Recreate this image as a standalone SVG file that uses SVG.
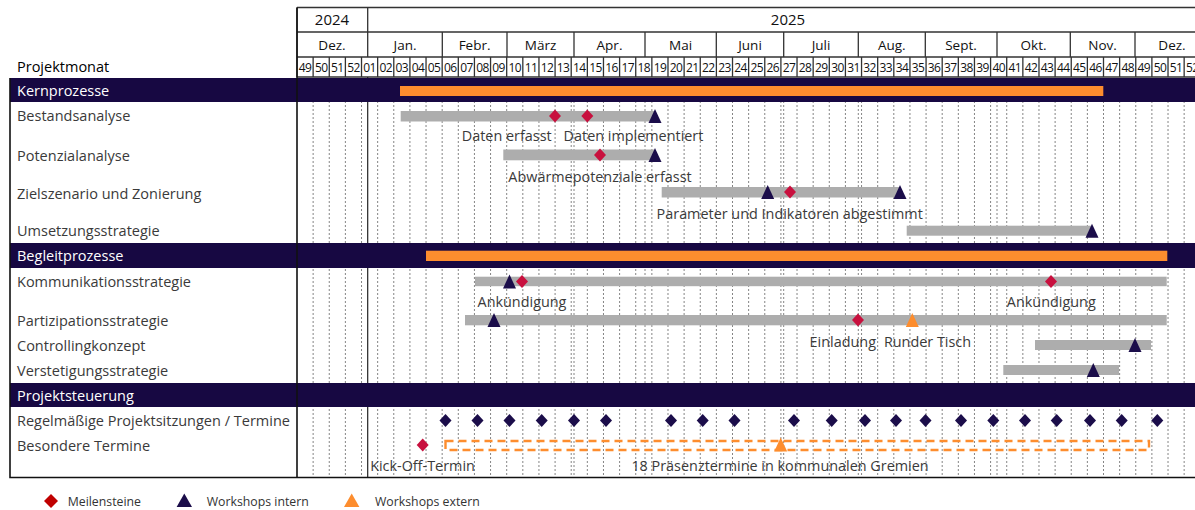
<svg xmlns="http://www.w3.org/2000/svg" xmlns:xlink="http://www.w3.org/1999/xlink" width="1195" height="510" viewBox="0 0 1195 510">
<style>
text{font-family:"Open Sans","Noto Sans","DejaVu Sans",sans-serif;fill:#3a3a3a}
.lbl{font-size:14.5px}
.band{fill:#170842}
.bt{font-size:14.5px;fill:#ffffff}
.hd{stroke:#333;stroke-width:1.3;fill:none}
.yr{font-size:15px;fill:#111;text-anchor:middle}
.mo{font-size:13.5px;fill:#111;text-anchor:middle}
.wk{font-size:12px;fill:#111;text-anchor:middle;letter-spacing:-0.6px}
.grid line{stroke:#666;stroke-width:0.8;stroke-dasharray:2 2}
.bar{fill:#adadad}
.ob{fill:#fd8d2e}
.ms{fill:#c8103e}
.wi{fill:#1b0d4a}
.we{fill:#fd8d2e}
.cap{font-size:14.4px;text-anchor:middle}
.lg{font-size:12.3px;fill:#333}
</style>
<defs>
<path id="dm" d="M0,-6.5 L6,0 L0,6.5 L-6,0Z"/>
<path id="tr" d="M0,-7 L6.5,7 L-6.5,7Z"/>
</defs>
<rect width="1195" height="510" fill="#ffffff"/>

<!-- header -->
<g id="header">
<path class="hd" d="M297,7.5H1195 M297,32H1195 M297,57H1195 M297,77H1195 M297,7.5V77 M367.7,7.5V57"/>
<path class="hd" d="M442.3,32V57 M507,32V57 M574,32V57 M645,32V57 M716.3,32V57 M783.7,32V57 M858.3,32V57 M925.3,32V57 M997,32V57 M1070.3,32V57 M1135,32V57"/>
<path class="hd" d="M313.13,57V77 M329.26,57V77 M345.39,57V77 M361.52,57V77 M377.65,57V77 M393.78,57V77 M409.91,57V77 M426.04,57V77 M442.17,57V77 M458.3,57V77 M474.43,57V77 M490.56,57V77 M506.69,57V77 M522.82,57V77 M538.95,57V77 M555.08,57V77 M571.21,57V77 M587.34,57V77 M603.47,57V77 M619.6,57V77 M635.73,57V77 M651.86,57V77 M667.99,57V77 M684.12,57V77 M700.25,57V77 M716.38,57V77 M732.51,57V77 M748.64,57V77 M764.77,57V77 M780.9,57V77 M797.03,57V77 M813.16,57V77 M829.29,57V77 M845.42,57V77 M861.55,57V77 M877.68,57V77 M893.81,57V77 M909.94,57V77 M926.07,57V77 M942.2,57V77 M958.33,57V77 M974.46,57V77 M990.59,57V77 M1006.72,57V77 M1022.85,57V77 M1038.98,57V77 M1055.11,57V77 M1071.24,57V77 M1087.37,57V77 M1103.5,57V77 M1119.63,57V77 M1135.76,57V77 M1151.89,57V77 M1168.02,57V77 M1184.15,57V77"/>
<text class="yr" x="332" y="24.5">2024</text>
<text class="yr" x="788" y="24.5">2025</text>
<text class="mo" x="332" y="49.5">Dez.</text>
<text class="mo" x="405" y="49.5">Jan.</text>
<text class="mo" x="474.6" y="49.5">Febr.</text>
<text class="mo" x="540.5" y="49.5">März</text>
<text class="mo" x="609.5" y="49.5">Apr.</text>
<text class="mo" x="680.6" y="49.5">Mai</text>
<text class="mo" x="750" y="49.5">Juni</text>
<text class="mo" x="821" y="49.5">Juli</text>
<text class="mo" x="891.8" y="49.5">Aug.</text>
<text class="mo" x="961" y="49.5">Sept.</text>
<text class="mo" x="1033.6" y="49.5">Okt.</text>
<text class="mo" x="1102.6" y="49.5">Nov.</text>
<text class="mo" x="1172" y="49.5">Dez.</text>
<text class="lbl" x="17" y="71.5" style="fill:#000">Projektmonat</text>
<g>
<text class="wk" x="305.1" y="71.5">49</text><text class="wk" x="321.2" y="71.5">50</text><text class="wk" x="337.3" y="71.5">51</text><text class="wk" x="353.5" y="71.5">52</text>
<text class="wk" x="369.6" y="71.5">01</text><text class="wk" x="385.7" y="71.5">02</text><text class="wk" x="401.8" y="71.5">03</text><text class="wk" x="418" y="71.5">04</text>
<text class="wk" x="434.1" y="71.5">05</text><text class="wk" x="450.2" y="71.5">06</text><text class="wk" x="466.4" y="71.5">07</text><text class="wk" x="482.5" y="71.5">08</text>
<text class="wk" x="498.6" y="71.5">09</text><text class="wk" x="514.8" y="71.5">10</text><text class="wk" x="530.9" y="71.5">11</text><text class="wk" x="547" y="71.5">12</text>
<text class="wk" x="563.1" y="71.5">13</text><text class="wk" x="579.3" y="71.5">14</text><text class="wk" x="595.4" y="71.5">15</text><text class="wk" x="611.5" y="71.5">16</text>
<text class="wk" x="627.7" y="71.5">17</text><text class="wk" x="643.8" y="71.5">18</text><text class="wk" x="659.9" y="71.5">19</text><text class="wk" x="676.1" y="71.5">20</text>
<text class="wk" x="692.2" y="71.5">21</text><text class="wk" x="708.3" y="71.5">22</text><text class="wk" x="724.4" y="71.5">23</text><text class="wk" x="740.6" y="71.5">24</text>
<text class="wk" x="756.7" y="71.5">25</text><text class="wk" x="772.8" y="71.5">26</text><text class="wk" x="789" y="71.5">27</text><text class="wk" x="805.1" y="71.5">28</text>
<text class="wk" x="821.2" y="71.5">29</text><text class="wk" x="837.4" y="71.5">30</text><text class="wk" x="853.5" y="71.5">31</text><text class="wk" x="869.6" y="71.5">32</text>
<text class="wk" x="885.7" y="71.5">33</text><text class="wk" x="901.9" y="71.5">34</text><text class="wk" x="918" y="71.5">35</text><text class="wk" x="934.1" y="71.5">36</text>
<text class="wk" x="950.3" y="71.5">37</text><text class="wk" x="966.4" y="71.5">38</text><text class="wk" x="982.5" y="71.5">39</text><text class="wk" x="998.7" y="71.5">40</text>
<text class="wk" x="1014.8" y="71.5">41</text><text class="wk" x="1030.9" y="71.5">42</text><text class="wk" x="1047" y="71.5">43</text><text class="wk" x="1063.2" y="71.5">44</text>
<text class="wk" x="1079.3" y="71.5">45</text><text class="wk" x="1095.4" y="71.5">46</text><text class="wk" x="1111.6" y="71.5">47</text><text class="wk" x="1127.7" y="71.5">48</text>
<text class="wk" x="1143.8" y="71.5">49</text><text class="wk" x="1160" y="71.5">50</text><text class="wk" x="1176.1" y="71.5">51</text><text class="wk" x="1192.2" y="71.5">52</text>
</g>
</g>

<!-- body grid -->
<g class="grid" id="grid">
<line x1="313.13" y1="77" x2="313.13" y2="477"/><line x1="329.26" y1="77" x2="329.26" y2="477"/><line x1="345.39" y1="77" x2="345.39" y2="477"/><line x1="361.52" y1="77" x2="361.52" y2="477"/>
<line x1="377.65" y1="77" x2="377.65" y2="477"/><line x1="393.78" y1="77" x2="393.78" y2="477"/><line x1="409.91" y1="77" x2="409.91" y2="477"/><line x1="426.04" y1="77" x2="426.04" y2="477"/>
<line x1="442.17" y1="77" x2="442.17" y2="477"/><line x1="458.3" y1="77" x2="458.3" y2="477"/><line x1="474.43" y1="77" x2="474.43" y2="477"/><line x1="490.56" y1="77" x2="490.56" y2="477"/>
<line x1="506.69" y1="77" x2="506.69" y2="477"/><line x1="522.82" y1="77" x2="522.82" y2="477"/><line x1="538.95" y1="77" x2="538.95" y2="477"/><line x1="555.08" y1="77" x2="555.08" y2="477"/>
<line x1="571.21" y1="77" x2="571.21" y2="477"/><line x1="587.34" y1="77" x2="587.34" y2="477"/><line x1="603.47" y1="77" x2="603.47" y2="477"/><line x1="619.6" y1="77" x2="619.6" y2="477"/>
<line x1="635.73" y1="77" x2="635.73" y2="477"/><line x1="651.86" y1="77" x2="651.86" y2="477"/><line x1="667.99" y1="77" x2="667.99" y2="477"/><line x1="684.12" y1="77" x2="684.12" y2="477"/>
<line x1="700.25" y1="77" x2="700.25" y2="477"/><line x1="716.38" y1="77" x2="716.38" y2="477"/><line x1="732.51" y1="77" x2="732.51" y2="477"/><line x1="748.64" y1="77" x2="748.64" y2="477"/>
<line x1="764.77" y1="77" x2="764.77" y2="477"/><line x1="780.9" y1="77" x2="780.9" y2="477"/><line x1="797.03" y1="77" x2="797.03" y2="477"/><line x1="813.16" y1="77" x2="813.16" y2="477"/>
<line x1="829.29" y1="77" x2="829.29" y2="477"/><line x1="845.42" y1="77" x2="845.42" y2="477"/><line x1="861.55" y1="77" x2="861.55" y2="477"/><line x1="877.68" y1="77" x2="877.68" y2="477"/>
<line x1="893.81" y1="77" x2="893.81" y2="477"/><line x1="909.94" y1="77" x2="909.94" y2="477"/><line x1="926.07" y1="77" x2="926.07" y2="477"/><line x1="942.2" y1="77" x2="942.2" y2="477"/>
<line x1="958.33" y1="77" x2="958.33" y2="477"/><line x1="974.46" y1="77" x2="974.46" y2="477"/><line x1="990.59" y1="77" x2="990.59" y2="477"/><line x1="1006.72" y1="77" x2="1006.72" y2="477"/>
<line x1="1022.85" y1="77" x2="1022.85" y2="477"/><line x1="1038.98" y1="77" x2="1038.98" y2="477"/><line x1="1055.11" y1="77" x2="1055.11" y2="477"/><line x1="1071.24" y1="77" x2="1071.24" y2="477"/>
<line x1="1087.37" y1="77" x2="1087.37" y2="477"/><line x1="1103.5" y1="77" x2="1103.5" y2="477"/><line x1="1119.63" y1="77" x2="1119.63" y2="477"/><line x1="1135.76" y1="77" x2="1135.76" y2="477"/>
<line x1="1151.89" y1="77" x2="1151.89" y2="477"/><line x1="1168.02" y1="77" x2="1168.02" y2="477"/><line x1="1184.15" y1="77" x2="1184.15" y2="477"/>
<line x1="574" y1="77" x2="574" y2="477"/><line x1="645" y1="77" x2="645" y2="477"/><line x1="783.7" y1="77" x2="783.7" y2="477"/><line x1="858.3" y1="77" x2="858.3" y2="477"/><line x1="997" y1="77" x2="997" y2="477"/>
</g>
<path d="M367.7,77V477" stroke="#222" stroke-width="1.2"/>

<!-- section bands -->
<g id="kernprozesse">
<rect class="band" x="10" y="78" width="1185" height="24"/>
<rect class="ob" x="400" y="86" width="703.3" height="10"/>
<text class="bt" x="17" y="95.5">Kernprozesse</text>
</g>
<g id="begleitprozesse">
<rect class="band" x="10" y="243" width="1185" height="25"/>
<rect class="ob" x="426" y="250.7" width="741.3" height="10.3"/>
<text class="bt" x="17" y="261">Begleitprozesse</text>
</g>
<g id="projektsteuerung">
<rect class="band" x="10" y="383" width="1185" height="24"/>
<text class="bt" x="17" y="400.5">Projektsteuerung</text>
</g>

<!-- tasks -->
<g id="bestandsanalyse">
<text class="lbl" x="17" y="121">Bestandsanalyse</text>
<rect class="bar" x="400.7" y="111" width="254" height="10.5"/>
<use xlink:href="#dm" x="555" y="116" class="ms"/>
<use xlink:href="#dm" x="587.3" y="116" class="ms"/>
<use xlink:href="#tr" x="655" y="116" class="wi"/>
<text class="cap" x="506.7" y="140.5">Daten erfasst</text>
<text class="cap" x="633.5" y="140.5">Daten implementiert</text>
</g>
<g id="potenzialanalyse">
<text class="lbl" x="17" y="161">Potenzialanalyse</text>
<rect class="bar" x="503.3" y="149.5" width="151.5" height="10.8"/>
<use xlink:href="#dm" x="600" y="155" class="ms"/>
<use xlink:href="#tr" x="655" y="155" class="wi"/>
<text class="cap" x="600" y="181.5">Abwärmepotenziale erfasst</text>
</g>
<g id="zielszenario">
<text class="lbl" x="17" y="199">Zielszenario und Zonierung</text>
<rect class="bar" x="661.7" y="187" width="239" height="10.5"/>
<use xlink:href="#tr" x="767.7" y="192" class="wi"/>
<use xlink:href="#dm" x="790" y="192" class="ms"/>
<use xlink:href="#tr" x="900" y="192" class="wi"/>
<text class="cap" x="789.7" y="218.5">Parameter und Indikatoren abgestimmt</text>
</g>
<g id="umsetzungsstrategie">
<text class="lbl" x="17" y="236">Umsetzungsstrategie</text>
<rect class="bar" x="906.7" y="225.7" width="185" height="10"/>
<use xlink:href="#tr" x="1092" y="230.7" class="wi"/>
</g>
<g id="kommunikationsstrategie">
<text class="lbl" x="17" y="287">Kommunikationsstrategie</text>
<rect class="bar" x="475" y="276.7" width="691.7" height="9.5"/>
<use xlink:href="#tr" x="509.5" y="281.5" class="wi"/>
<use xlink:href="#dm" x="522" y="281.5" class="ms"/>
<use xlink:href="#dm" x="1051" y="281.5" class="ms"/>
<text class="cap" x="522" y="306.5">Ankündigung</text>
<text class="cap" x="1051.3" y="306.5">Ankündigung</text>
</g>
<g id="partizipationsstrategie">
<text class="lbl" x="17" y="326">Partizipationsstrategie</text>
<rect class="bar" x="465" y="315" width="701.7" height="10.3"/>
<use xlink:href="#tr" x="494" y="320" class="wi"/>
<use xlink:href="#dm" x="858" y="320" class="ms"/>
<use xlink:href="#tr" x="912.3" y="320" class="we"/>
<text class="cap" x="842.8" y="346.5">Einladung</text>
<text class="cap" x="927.5" y="346.5">Runder Tisch</text>
</g>
<g id="controllingkonzept">
<text class="lbl" x="17" y="351">Controllingkonzept</text>
<rect class="bar" x="1035" y="340" width="116" height="10"/>
<use xlink:href="#tr" x="1135" y="345" class="wi"/>
</g>
<g id="verstetigungsstrategie">
<text class="lbl" x="17" y="376">Verstetigungsstrategie</text>
<rect class="bar" x="1003.3" y="365" width="115.7" height="10"/>
<use xlink:href="#tr" x="1093.3" y="370" class="wi"/>
</g>
<g id="projektsitzungen">
<text class="lbl" x="17" y="426">Regelmäßige Projektsitzungen / Termine</text>
<use xlink:href="#dm" x="445.5" y="420.5" class="wi"/>
<use xlink:href="#dm" x="477.5" y="420.5" class="wi"/>
<use xlink:href="#dm" x="509.5" y="420.5" class="wi"/>
<use xlink:href="#dm" x="541.7" y="420.5" class="wi"/>
<use xlink:href="#dm" x="574" y="420.5" class="wi"/>
<use xlink:href="#dm" x="606" y="420.5" class="wi"/>
<use xlink:href="#dm" x="671" y="420.5" class="wi"/>
<use xlink:href="#dm" x="702.7" y="420.5" class="wi"/>
<use xlink:href="#dm" x="734.5" y="420.5" class="wi"/>
<use xlink:href="#dm" x="794" y="420.5" class="wi"/>
<use xlink:href="#dm" x="831.7" y="420.5" class="wi"/>
<use xlink:href="#dm" x="865" y="420.5" class="wi"/>
<use xlink:href="#dm" x="896" y="420.5" class="wi"/>
<use xlink:href="#dm" x="925.5" y="420.5" class="wi"/>
<use xlink:href="#dm" x="961" y="420.5" class="wi"/>
<use xlink:href="#dm" x="993.3" y="420.5" class="wi"/>
<use xlink:href="#dm" x="1025" y="420.5" class="wi"/>
<use xlink:href="#dm" x="1056.7" y="420.5" class="wi"/>
<use xlink:href="#dm" x="1090" y="420.5" class="wi"/>
<use xlink:href="#dm" x="1121.7" y="420.5" class="wi"/>
<use xlink:href="#dm" x="1157.3" y="420.5" class="wi"/>
</g>
<g id="besondere-termine">
<text class="lbl" x="17" y="451">Besondere Termine</text>
<use xlink:href="#dm" x="422.7" y="445" class="ms"/>
<rect x="445.5" y="441" width="703.5" height="9" fill="none" stroke="#fd8d2e" stroke-width="2.4" stroke-dasharray="8 5"/>
<use xlink:href="#tr" x="780.7" y="444.5" class="we"/>
<text class="cap" x="422.5" y="471">Kick-Off-Termin</text>
<text class="cap" x="780" y="471">18 Präsenztermine in kommunalen Gremien</text>
</g>

<!-- table borders -->
<path d="M10,78V477.5H1195 M297,7.5V477.5" fill="none" stroke="#111" stroke-width="1.6"/>

<!-- legend -->
<g id="legend">
<path d="M51,494 L58,501 L51,508 L44,501Z" fill="#c00000"/>
<text class="lg" x="67.7" y="505.5">Meilensteine</text>
<path d="M184.3,493.5 L192,507 L176.6,507Z" fill="#1b0d4a"/>
<text class="lg" x="206.7" y="505.5">Workshops intern</text>
<path d="M351.7,493.5 L359.4,507 L344,507Z" fill="#fd8d2e"/>
<text class="lg" x="375" y="505.5">Workshops extern</text>
</g>
</svg>
